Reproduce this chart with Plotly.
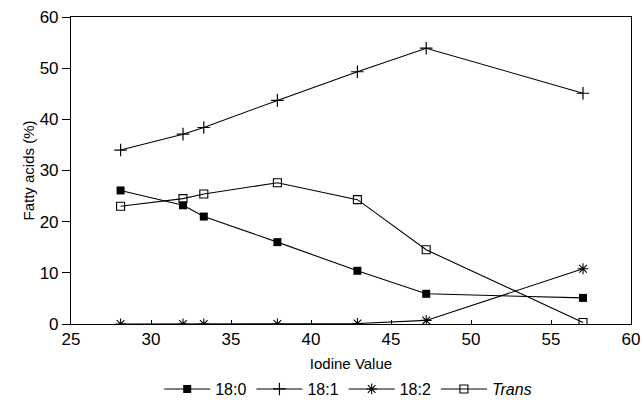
import plotly.graph_objects as go

iodine = [28.1, 32.0, 33.3, 37.9, 42.9, 47.2, 57.0]
s180 = [26.1, 23.2, 21.0, 16.0, 10.4, 5.9, 5.1]
s181 = [34.0, 37.1, 38.4, 43.7, 49.3, 53.9, 45.1]
s182 = [0.0, 0.0, 0.0, 0.0, 0.1, 0.7, 10.8]
trans = [23.0, 24.5, 25.4, 27.6, 24.3, 14.5, 0.3]
names = ["18:0", "18:1", "18:2", "<i>Trans</i>"]

FONT = "Liberation Sans, Arial, sans-serif"
fig = go.Figure()
specs = [
    (s180, dict(symbol="square", size=8, color="black")),
    (s181, dict(symbol="cross-thin", size=9, color="black", line=dict(width=1.2, color="black"))),
    (s182, dict(symbol="asterisk", size=9, color="black", line=dict(width=1.1, color="black"))),
    (trans, dict(symbol="square-open", size=8, color="black", line=dict(width=1.1, color="black"))),
]
for (ys, mk), nm in zip(specs, names):
    fig.add_trace(go.Scatter(x=iodine, y=ys, mode="lines+markers", name=nm,
                             line=dict(color="black", width=1.1), marker=mk))

fig.update_layout(
    width=642, height=404,
    margin=dict(l=71, r=11, t=17, b=80, autoexpand=False),
    paper_bgcolor="white", plot_bgcolor="white",
    font=dict(family=FONT, size=16, color="black"),
    showlegend=True,
    legend=dict(orientation="h", x=0.495, xanchor="center", yref="container",
                y=0.037, yanchor="middle", font=dict(size=16), itemwidth=46,
                tracegroupgap=0, bgcolor="rgba(0,0,0,0)"),
    xaxis=dict(range=[25, 60], dtick=5, showgrid=False, zeroline=False,
               showline=True, mirror=True, linecolor="black", linewidth=1.1,
               ticks="inside", ticklen=4, tickcolor="black",
               tickfont=dict(size=17),
               title=dict(text="Iodine Value", font=dict(size=15), standoff=13)),
    yaxis=dict(range=[0, 60], dtick=10, showgrid=False, zeroline=False,
               showline=True, mirror=True, linecolor="black", linewidth=1.1,
               ticks="outside", ticklen=8, tickcolor="black",
               tickfont=dict(size=17),
               title=dict(text="Fatty acids (%)", font=dict(size=15), standoff=1)),
)
fig.write_html("out.html")
